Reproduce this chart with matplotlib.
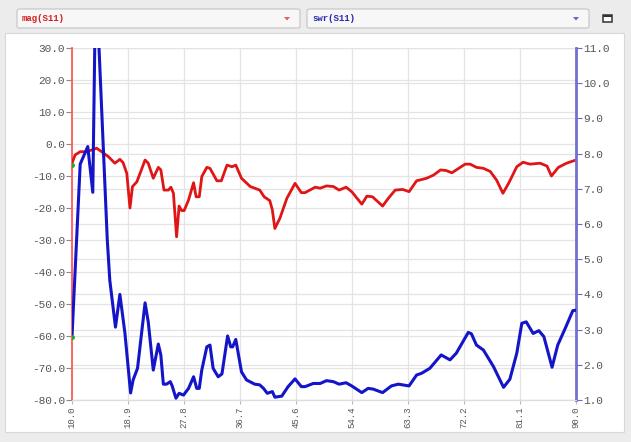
import numpy as np
import matplotlib
matplotlib.use('Agg')
import matplotlib.pyplot as plt
from matplotlib.patches import Rectangle, FancyBboxPatch, Polygon
from matplotlib.ticker import FormatStrFormatter
import matplotlib.transforms as mtransforms

plt.rcParams['axes.unicode_minus'] = False
plt.rcParams['font.family'] = ['Liberation Mono', 'DejaVu Sans Mono']

# mag(S11) in dB, left axis
mag_freq = [10.0, 10.5, 11.3, 12.3, 13.4, 13.9, 14.7, 15.8, 16.8, 17.6, 18.1, 18.7,
            19.2, 19.6, 20.3, 21.6, 22.1, 22.9, 23.7, 24.1, 24.6, 25.3, 25.7, 26.1,
            26.6, 27.0, 27.4, 27.8, 28.5, 29.3, 29.7, 30.2, 30.6, 31.4, 31.9, 33.0,
            33.7, 34.6, 35.4, 36.0, 36.9, 38.3, 39.8, 40.5, 41.4, 41.8, 42.2, 43.0,
            44.1, 45.4, 46.4, 47.0, 48.6, 49.4, 50.4, 51.5, 52.4, 53.5, 54.4, 56.0,
            56.8, 57.7, 59.3, 60.2, 61.3, 62.5, 63.5, 64.7, 66.3, 67.4, 68.5, 69.4,
            70.3, 72.4, 73.2, 74.2, 75.3, 76.4, 77.4, 78.4, 79.3, 80.6, 81.6, 82.7,
            84.3, 85.4, 86.1, 87.2, 88.5, 90.0]
mag_db = [-6.0, -3.4, -2.4, -2.4, -1.7, -1.3, -2.4, -4.0, -6.0, -4.8, -5.8, -9.2,
          -20.0, -13.3, -11.8, -5.0, -6.0, -10.7, -7.3, -8.1, -14.4, -14.4, -13.5, -15.4,
          -29.0, -19.4, -20.8, -20.8, -17.5, -12.1, -16.5, -16.5, -10.2, -7.3, -7.6, -11.5,
          -11.5, -6.6, -7.1, -6.6, -10.7, -13.3, -14.4, -16.5, -17.7, -20.6, -26.4, -23.2,
          -17.0, -12.3, -15.2, -15.2, -13.5, -13.8, -13.1, -13.3, -14.4, -13.5, -14.9, -18.8,
          -16.3, -16.5, -19.4, -17.0, -14.4, -14.2, -14.9, -11.5, -10.7, -9.7, -8.1, -8.3,
          -9.0, -6.3, -6.3, -7.3, -7.6, -8.6, -11.3, -15.4, -12.3, -7.1, -5.7, -6.3,
          -6.0, -6.9, -10.0, -7.3, -6.0, -5.0]

# swr(S11), right axis
swr_freq = [10.0, 11.3, 12.5, 13.3, 13.7, 14.0, 15.6, 16.0, 16.9, 17.6, 18.4, 19.3,
            19.7, 20.4, 21.6, 22.1, 22.9, 23.7, 24.1, 24.5, 25.0, 25.6, 25.9, 26.5,
            27.0, 27.7, 28.5, 29.3, 29.8, 30.2, 30.6, 31.4, 31.9, 32.4, 33.2, 33.8,
            34.7, 35.2, 35.5, 36.0, 36.9, 37.7, 39.0, 39.8, 40.4, 41.0, 41.8, 42.2,
            43.3, 44.3, 45.4, 46.4, 47.0, 48.3, 49.4, 50.4, 51.5, 52.4, 53.5, 54.4,
            56.0, 57.0, 57.8, 59.3, 60.7, 61.8, 63.5, 64.7, 65.5, 66.8, 68.6, 70.0,
            71.0, 72.9, 73.4, 74.2, 75.3, 76.9, 78.5, 79.5, 80.6, 81.4, 82.1, 83.2,
            84.1, 84.9, 86.2, 87.1, 88.3, 89.5, 90.0]
swr = [2.8, 7.7, 8.2, 6.9, 12.2, 12.2, 5.55, 4.4, 3.07, 4.0, 2.9, 1.2,
       1.57, 1.9, 3.76, 3.22, 1.85, 2.59, 2.28, 1.45, 1.45, 1.52, 1.4, 1.05,
       1.19, 1.14, 1.33, 1.66, 1.33, 1.33, 1.85, 2.51, 2.56, 1.9, 1.66, 1.74,
       2.82, 2.51, 2.51, 2.72, 1.8, 1.57, 1.45, 1.43, 1.33, 1.19, 1.24, 1.08,
       1.11, 1.38, 1.6, 1.38, 1.38, 1.47, 1.47, 1.55, 1.52, 1.45, 1.49, 1.4,
       1.21, 1.33, 1.31, 1.21, 1.4, 1.45, 1.4, 1.71, 1.76, 1.9, 2.28, 2.14,
       2.33, 2.92, 2.88, 2.56, 2.42, 1.95, 1.36, 1.59, 2.33, 3.18, 3.22, 2.89,
       2.97, 2.8, 1.93, 2.56, 3.04, 3.54, 3.55]

freq_ticks = np.linspace(10, 90, 10)
mag_ticks = np.arange(-80, 31, 10)
swr_ticks = np.arange(1, 12, 1)

W, H = 631, 442
fig = plt.figure(figsize=(W / 100, H / 100), dpi=100, facecolor='#ececec')

def fx(x):
    return x / W

def fy(y):
    return 1 - y / H

# white chart panel and toolbar
fig.patches.append(Rectangle((fx(5), fy(432)), fx(619), (432 - 33) / H,
                             transform=fig.transFigure, facecolor='white',
                             edgecolor='#d8d8d8', lw=0.8, zorder=-5))
for x0, x1, label, col in [(17, 300, 'mag(S11)', '#d42020'), (307, 589, 'swr(S11)', '#2a2aa8')]:
    fig.patches.append(FancyBboxPatch((fx(x0), fy(28)), fx(x1 - x0), 19 / H,
                                      boxstyle='round,pad=0,rounding_size=0.004',
                                      transform=fig.transFigure, facecolor='#f7f7f7',
                                      edgecolor='#c4c4c4', lw=0.8, zorder=-4))
    fig.text(fx(x0 + 5), fy(18.5), label, color=col, fontsize=6.5, fontweight='bold',
             va='center', ha='left')
    ax_ = x1 - 13
    fig.patches.append(Polygon([(fx(ax_ - 3), fy(17)), (fx(ax_ + 3), fy(17)), (fx(ax_), fy(20.5))],
                               closed=True, transform=fig.transFigure, facecolor=col,
                               edgecolor='none', alpha=0.7, zorder=-3))
fig.patches.append(Rectangle((fx(603), fy(22)), fx(9), 7 / H, transform=fig.transFigure,
                             facecolor='white', edgecolor='#333333', lw=1.1, zorder=-3))
fig.patches.append(Rectangle((fx(603), fy(17)), fx(9), 2 / H, transform=fig.transFigure,
                             facecolor='#333333', edgecolor='none', zorder=-3))

ax = fig.add_axes([fx(72), fy(400), fx(576 - 72), (400 - 48) / H])
ax2 = ax.twinx()

ax.set_xlim(10, 90)
ax.set_ylim(-80, 30)
ax2.set_ylim(1, 11)

grid_col = '#e4e4e4'
for f in freq_ticks:
    ax.axvline(f, color=grid_col, lw=0.9, zorder=0)
for m in mag_ticks:
    ax.axhline(m, color=grid_col, lw=0.9, zorder=0)
# swr grid drawn under the curves in the left axes
blend = mtransforms.blended_transform_factory(ax.transAxes, ax2.transData)
for s in swr_ticks:
    ax.plot([0, 1], [s, s], transform=blend, color=grid_col, lw=0.9, zorder=0)

ax.plot(mag_freq, mag_db, color='#e01515', lw=2.0, zorder=3)
ax2.plot(swr_freq, swr, color='#1414c8', lw=2.2, zorder=3)
ax.plot(mag_freq[0], -6.5, 'o', color='#22aa22', ms=2.5, zorder=4)
ax2.plot(swr_freq[0], swr[0], 'o', color='#22aa22', ms=2.5, zorder=4)

ax.set_xticks(freq_ticks)
ax.xaxis.set_major_formatter(FormatStrFormatter('%.1f'))
ax.set_yticks(mag_ticks)
ax.yaxis.set_major_formatter(FormatStrFormatter('%.1f'))
ax2.set_yticks(swr_ticks)
ax2.yaxis.set_major_formatter(FormatStrFormatter('%.1f'))

ax.tick_params(axis='x', length=3, color='#bbbbbb', labelsize=6.5, labelcolor='#555555',
               labelrotation=90, pad=2)
ax.tick_params(axis='y', length=4, color='#888888', labelsize=8, labelcolor='#555555', pad=1)
ax2.tick_params(axis='y', length=4, color='#6a6ad0', labelsize=8, labelcolor='#555555', pad=1)

for a in (ax, ax2):
    a.spines['top'].set_visible(False)
    a.spines['bottom'].set_color('#dddddd')
    a.spines['left'].set_visible(False)
    a.spines['right'].set_visible(False)
    a.set_facecolor('none')
ax.spines['left'].set_visible(True)
ax.spines['left'].set_color('#ff5a5a')
ax.spines['left'].set_linewidth(1.3)
ax2.spines['right'].set_visible(True)
ax2.spines['right'].set_color('#7070d0')
ax2.spines['right'].set_linewidth(2.0)

fig.savefig('out.png', dpi=100, facecolor=fig.get_facecolor())
